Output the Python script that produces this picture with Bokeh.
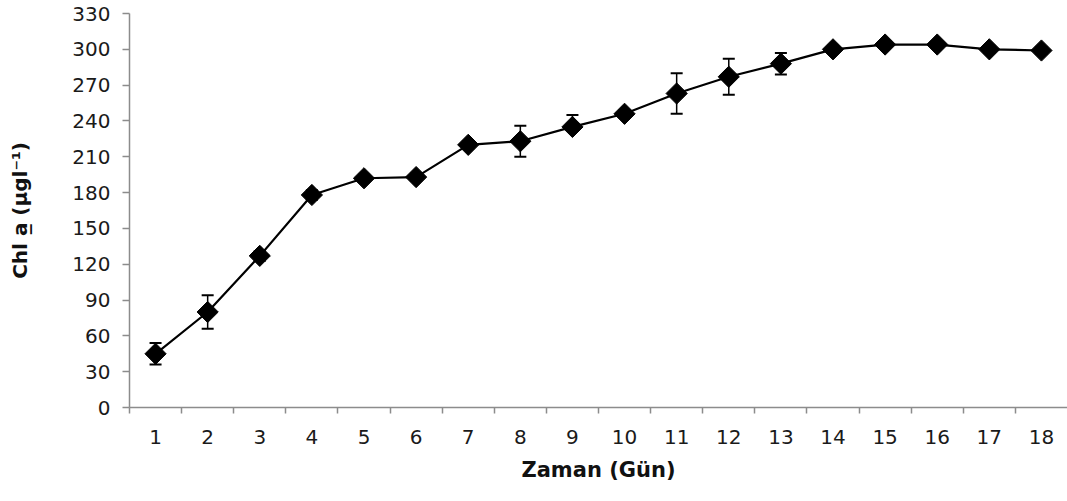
import numpy as np
from bokeh.plotting import figure
from bokeh.models import ColumnDataSource, Whisker, TeeHead, Range1d, FixedTicker
from bokeh.embed import file_html
from bokeh.resources import INLINE

# ---- data ----
days = [1, 2, 3, 4, 5, 6, 7, 8, 9, 10, 11, 12, 13, 14, 15, 16, 17, 18]
chl = [45, 80, 127, 178, 192, 193, 220, 223, 235, 246, 263, 277, 288, 300, 304, 304, 300, 299]
err_hi = [9, 14, 4, 4, 3, 3, 3, 13, 10, 3, 17, 15, 9, 3, 3, 3, 3, 3]
err_lo = [9, 14, 4, 4, 3, 3, 3, 13, 0, 3, 17, 15, 9, 3, 3, 3, 3, 3]
y_ticks = [0, 30, 60, 90, 120, 150, 180, 210, 240, 270, 300, 330]
x_label = "Zaman (Gün)"
y_label = "Chl a̲ (µgl⁻¹)"

FONT = "DejaVu Sans"
AXIS_GREY = "#8c8c8c"

src = ColumnDataSource(dict(
    x=days, y=chl,
    upper=[v + e for v, e in zip(chl, err_hi)],
    lower=[v - e for v, e in zip(chl, err_lo)],
))

p = figure(width=1067, height=501, output_backend="svg", toolbar_location=None,
           x_range=Range1d(0.5, 18.5), y_range=Range1d(0, 330),
           min_border_left=129, min_border_top=13, min_border_right=0, min_border_bottom=94)
p.outline_line_color = None
p.xgrid.visible = False
p.ygrid.visible = False
p.background_fill_color = "white"

# error bars
w = Whisker(base="x", upper="upper", lower="lower", source=src,
            line_color="black", line_width=1.5,
            upper_head=TeeHead(size=12, line_color="black", line_width=2),
            lower_head=TeeHead(size=12, line_color="black", line_width=2))
p.add_layout(w)

p.line("x", "y", source=src, line_color="black", line_width=2.2)
p.scatter("x", "y", source=src, marker="square", angle=np.pi / 4, size=15,
          fill_color="black", line_color="black")

# x axis: labels at integers, tick marks between categories
xa = p.xaxis[0]
xa.ticker = FixedTicker(ticks=days, minor_ticks=[d - 0.5 for d in days])
xa.major_tick_out = 0
xa.major_tick_in = 0
xa.minor_tick_out = 6
xa.minor_tick_in = 0
xa.minor_tick_line_color = AXIS_GREY
xa.minor_tick_line_width = 1.5
xa.axis_line_color = AXIS_GREY
xa.axis_line_width = 1.5
xa.major_label_text_font = FONT
xa.major_label_text_font_size = "20px"
xa.major_label_text_color = "#1a1a1a"
xa.major_label_standoff = 16
xa.axis_label = x_label
xa.axis_label_text_font = FONT
xa.axis_label_text_font_style = "bold"
xa.axis_label_text_font_size = "21px"
xa.axis_label_text_color = "#111111"
xa.axis_label_standoff = 11

ya = p.yaxis[0]
ya.ticker = FixedTicker(ticks=y_ticks, minor_ticks=[])
ya.major_tick_out = 7
ya.major_tick_in = 0
ya.major_tick_line_color = AXIS_GREY
ya.major_tick_line_width = 1.5
ya.axis_line_color = AXIS_GREY
ya.axis_line_width = 1.5
ya.major_label_text_font = FONT
ya.major_label_text_font_size = "20px"
ya.major_label_text_color = "#1a1a1a"
ya.major_label_standoff = 12
ya.axis_label = y_label
ya.axis_label_text_font = FONT
ya.axis_label_text_font_style = "bold"
ya.axis_label_text_font_size = "20px"
ya.axis_label_text_color = "#111111"
ya.axis_label_standoff = 37

open("out.html", "w").write(file_html(p, INLINE))
